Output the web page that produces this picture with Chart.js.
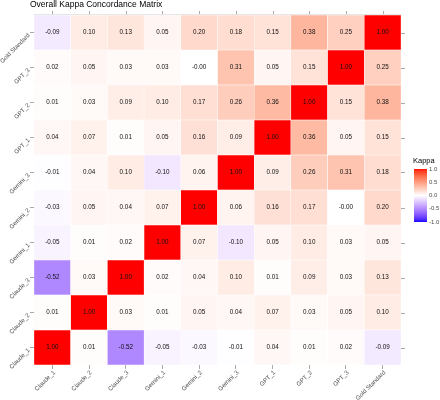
<!DOCTYPE html>
<html>
<head>
<meta charset="utf-8">
<script src="https://cdn.jsdelivr.net/npm/chart.js@4"></script>
<style>
  html, body { margin: 0; padding: 0; background: #fff; }
  #wrap { width: 440px; height: 400px; }
</style>
</head>
<body>
<div id="wrap"><canvas id="heat" width="440" height="400"></canvas></div>
<script>
// raters, bottom to top / left to right
var raters = ['Claude_1', 'Claude_2', 'Claude_3', 'Gemini_1', 'Gemini_2', 'Gemini_3', 'GPT_1', 'GPT_2', 'GPT_3', 'Gold Standard'];

// kappa per row (same order as raters)
var claude1 = [1.00, 0.01, -0.52, -0.05, -0.03, -0.01, 0.04, 0.01, 0.02, -0.09];
var claude2 = [0.01, 1.00, 0.03, 0.01, 0.05, 0.04, 0.07, 0.03, 0.05, 0.10];
var claude3 = [-0.52, 0.03, 1.00, 0.02, 0.04, 0.10, 0.01, 0.09, 0.03, 0.13];
var gemini1 = [-0.05, 0.01, 0.02, 1.00, 0.07, -0.10, 0.05, 0.10, 0.03, 0.05];
var gemini2 = [-0.03, 0.05, 0.04, 0.07, 1.00, 0.06, 0.16, 0.17, -0.001, 0.20];
var gemini3 = [-0.01, 0.04, 0.10, -0.10, 0.06, 1.00, 0.09, 0.26, 0.31, 0.18];
var gpt1 = [0.04, 0.07, 0.01, 0.05, 0.16, 0.09, 1.00, 0.36, 0.05, 0.15];
var gpt2 = [0.01, 0.03, 0.09, 0.10, 0.17, 0.26, 0.36, 1.00, 0.15, 0.38];
var gpt3 = [0.02, 0.05, 0.03, 0.03, -0.001, 0.31, 0.05, 0.15, 1.00, 0.25];
var gold = [-0.09, 0.10, 0.13, 0.05, 0.20, 0.18, 0.15, 0.38, 0.25, 1.00];

var rows = [claude1, claude2, claude3, gemini1, gemini2, gemini3, gpt1, gpt2, gpt3, gold];
var legendTicks = [1.0, 0.5, 0.0, -0.5, -1.0];

var FONT = '"Liberation Sans", Arial, sans-serif';

// colour scale blue - white - red, interpolated in Lab like ggplot
function toLin(c) { c /= 255; return c <= 0.04045 ? c / 12.92 : Math.pow((c + 0.055) / 1.055, 2.4); }
function fromLin(c) { c = c <= 0.0031308 ? 12.92 * c : 1.055 * Math.pow(c, 1 / 2.4) - 0.055; return Math.max(0, Math.min(255, Math.round(c * 255))); }
function rgb2lab(r, g, b) {
  r = toLin(r); g = toLin(g); b = toLin(b);
  var x = (r * 0.4124 + g * 0.3576 + b * 0.1805) / 0.95047;
  var y = (r * 0.2126 + g * 0.7152 + b * 0.0722);
  var z = (r * 0.0193 + g * 0.1192 + b * 0.9505) / 1.08883;
  var f = function (t) { return t > 0.008856 ? Math.cbrt(t) : 7.787 * t + 16 / 116; };
  x = f(x); y = f(y); z = f(z);
  return [116 * y - 16, 500 * (x - y), 200 * (y - z)];
}
function lab2rgb(L, a, bb) {
  var y = (L + 16) / 116, x = a / 500 + y, z = y - bb / 200;
  var fi = function (t) { return t * t * t > 0.008856 ? t * t * t : (t - 16 / 116) / 7.787; };
  x = fi(x) * 0.95047; y = fi(y); z = fi(z) * 1.08883;
  var r = x * 3.2406 + y * -1.5372 + z * -0.4986;
  var g = x * -0.9689 + y * 1.8758 + z * 0.0415;
  var b = x * 0.0557 + y * -0.2040 + z * 1.0570;
  return 'rgb(' + fromLin(r) + ',' + fromLin(g) + ',' + fromLin(b) + ')';
}
var labWhite = rgb2lab(255, 255, 255), labRed = rgb2lab(255, 0, 0), labBlue = rgb2lab(0, 0, 255);
function kappaColor(v) {
  var t = Math.min(1, Math.abs(v)), end = v >= 0 ? labRed : labBlue;
  return lab2rgb(labWhite[0] + (end[0] - labWhite[0]) * t,
                 labWhite[1] + (end[1] - labWhite[1]) * t,
                 labWhite[2] + (end[2] - labWhite[2]) * t);
}

// one dataset per row, floating bars [r, r+1]
var datasets = rows.map(function (row, r) {
  return {
    label: raters[r],
    data: row.map(function () { return [r, r + 1]; }),
    kappa: row,
    backgroundColor: row.map(kappaColor),
    borderColor: '#ffffff',
    borderWidth: 0.5,
    borderSkipped: false,
    barPercentage: 1,
    categoryPercentage: 1
  };
});

var extras = {
  id: 'extras',
  afterDatasetsDraw: function (chart) {
    var ctx = chart.ctx, area = chart.chartArea;
    var xs = chart.scales.x, ys = chart.scales.y;
    ctx.save();
    // values in cells
    ctx.fillStyle = '#111';
    ctx.font = '6.3px ' + FONT;
    ctx.textAlign = 'center';
    ctx.textBaseline = 'middle';
    chart.data.datasets.forEach(function (ds, r) {
      chart.getDatasetMeta(r).data.forEach(function (bar, c) {
        ctx.fillText(ds.kappa[c].toFixed(2), bar.x, ys.getPixelForValue(r + 0.5));
      });
    });
    // top / right tick marks
    ctx.strokeStyle = '#aaa';
    ctx.lineWidth = 1;
    ctx.beginPath();
    raters.forEach(function (n, i) {
      var px = Math.round(xs.getPixelForValue(i)) + 0.5;
      ctx.moveTo(px, area.top - 4); ctx.lineTo(px, area.top);
      var py = Math.round(ys.getPixelForValue(i + 0.5)) + 0.5;
      ctx.moveTo(area.right, py); ctx.lineTo(area.right + 4, py);
    });
    ctx.stroke();
    ctx.strokeStyle = '#e6e6e6';
    ctx.beginPath();
    ctx.moveTo(area.left, area.top - 0.5); ctx.lineTo(area.right, area.top - 0.5);
    ctx.stroke();
    // title
    ctx.fillStyle = '#000';
    ctx.font = '8.5px ' + FONT;
    ctx.textAlign = 'left';
    ctx.textBaseline = 'middle';
    ctx.fillText('Overall Kappa Concordance Matrix', 30, 5);
    // legend
    var lx = 414, ltop = 169, lbot = 222, lw = 13;
    ctx.font = '7.5px ' + FONT;
    ctx.fillStyle = '#000';
    ctx.fillText('Kappa', lx - 1, 161);
    for (var yy = ltop; yy < lbot; yy++) {
      var v = 1 - 2 * (yy - ltop + 0.5) / (lbot - ltop);
      ctx.fillStyle = kappaColor(v);
      ctx.fillRect(lx, yy, lw, 1);
    }
    ctx.font = '6px ' + FONT;
    ctx.fillStyle = '#4d4d4d';
    legendTicks.forEach(function (t) {
      var ty = ltop + (1 - t) / 2 * (lbot - ltop);
      ctx.fillText(t.toFixed(1), lx + lw + 2, ty);
    });
    ctx.restore();
  }
};

var chart = new Chart(document.getElementById('heat').getContext('2d'), {
  type: 'bar',
  data: { labels: raters, datasets: datasets },
  options: {
    responsive: false,
    animation: false,
    layout: { padding: { left: 0, top: 15, right: 39, bottom: 0 } },
    plugins: { legend: { display: false }, tooltip: { enabled: false }, title: { display: false } },
    scales: {
      x: {
        stacked: true,
        offset: true,
        grid: { offset: false, drawOnChartArea: false, drawTicks: true, tickLength: 4, color: '#aaa' },
        border: { display: false },
        ticks: { minRotation: 45, maxRotation: 45, padding: 0, labelOffset: 2, color: '#4d4d4d', font: { family: FONT, size: 6.1 } },
        afterFit: function (s) { s.height = 35; }
      },
      y: {
        stacked: false,
        min: 0,
        max: 10,
        grid: { drawOnChartArea: false, drawTicks: true, tickLength: 4, color: '#aaa' },
        border: { display: false },
        afterBuildTicks: function (s) {
          s.ticks = raters.map(function (n, i) { return { value: i + 0.5 }; });
        },
        ticks: {
          minRotation: 45, maxRotation: 45, padding: 1, labelOffset: 2, color: '#4d4d4d', font: { family: FONT, size: 6.1 },
          callback: function (v) { return raters[Math.floor(v)]; }
        },
        afterFit: function (s) { s.width = 34; }
      }
    }
  },
  plugins: [extras]
});
</script>
</body>
</html>
